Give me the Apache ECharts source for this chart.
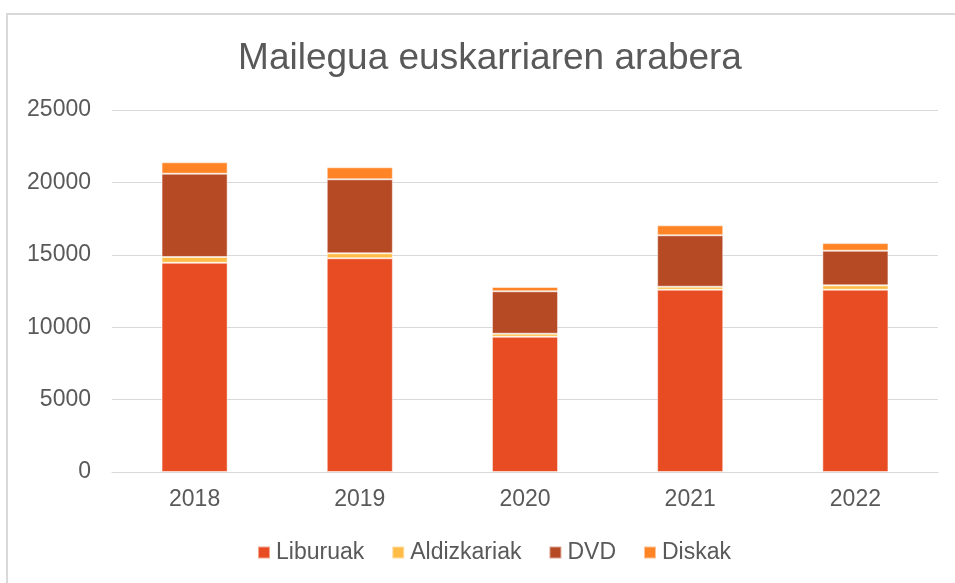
<!DOCTYPE html>
<html>
<head>
<meta charset="utf-8">
<script src="https://cdn.jsdelivr.net/npm/echarts@6/dist/echarts.min.js"></script>
<style>
  html, body { margin: 0; padding: 0; background: #fff; }
  #chart { width: 955px; height: 583px; }
</style>
</head>
<body>
<div id="chart"></div>
<script>
const years = ['2018', '2019', '2020', '2021', '2022'];
const liburuak = [14450, 14760, 9340, 12590, 12590];
const aldizkariak = [400, 345, 210, 205, 300];
const dvd = [5750, 5110, 2930, 3550, 2390];
const diskak = [790, 830, 300, 690, 530];

const colors = ['#e84c22', '#ffbd47', '#b54a25', '#ff8426'];
const textColor = '#595959';
const fontFamily = '"Liberation Sans", Arial, sans-serif';

const chart = echarts.init(document.getElementById('chart'));

function barSeries(name, data, idx) {
  return {
    name: name,
    type: 'bar',
    stack: 'total',
    data: data,
    barCategoryGap: '60%',
    itemStyle: {
      color: colors[idx],
      borderColor: 'rgba(255,255,255,0.5)',
      borderWidth: 1,
    },
  };
}

chart.setOption({
  backgroundColor: '#fff',
  animation: false,
  textStyle: { fontFamily: fontFamily },
  title: {
    text: 'Mailegua euskarriaren arabera',
    left: 485,
    textAlign: 'center',
    top: 35,
    textStyle: { color: textColor, fontSize: 37, fontWeight: 'normal', fontFamily: fontFamily },
  },
  graphic: [{
    type: 'rect',
    shape: { x: 7, y: 14, width: 960, height: 590 },
    style: { fill: 'none', stroke: '#d9d9d9', lineWidth: 2 },
    silent: true,
  }],
  legend: {
    bottom: 14,
    left: 252,
    itemWidth: 12,
    itemHeight: 12,
    itemGap: 27,
    icon: 'rect',
    textStyle: { color: textColor, fontSize: 23, fontFamily: fontFamily, padding: [0, 0, 0, 1] },
    data: ['Liburuak', 'Aldizkariak', 'DVD', 'Diskak'],
  },
  grid: { left: 112, right: 17, top: 110, bottom: 111, containLabel: false },
  xAxis: {
    type: 'category',
    data: years,
    axisLine: { lineStyle: { color: '#d9d9d9', width: 1 } },
    axisTick: { show: false },
    axisLabel: { color: textColor, fontSize: 23, margin: 16, fontFamily: fontFamily },
  },
  yAxis: {
    type: 'value',
    min: 0,
    max: 25000,
    interval: 5000,
    axisLine: { show: false },
    axisTick: { show: false },
    splitLine: { lineStyle: { color: '#d9d9d9', width: 1 } },
    axisLabel: {
      color: textColor,
      fontSize: 23,
      margin: 21,
      fontFamily: fontFamily,
      formatter: function (v) { return String(v); },
    },
  },
  series: [
    barSeries('Liburuak', liburuak, 0),
    barSeries('Aldizkariak', aldizkariak, 1),
    barSeries('DVD', dvd, 2),
    barSeries('Diskak', diskak, 3),
  ],
});
</script>
</body>
</html>
